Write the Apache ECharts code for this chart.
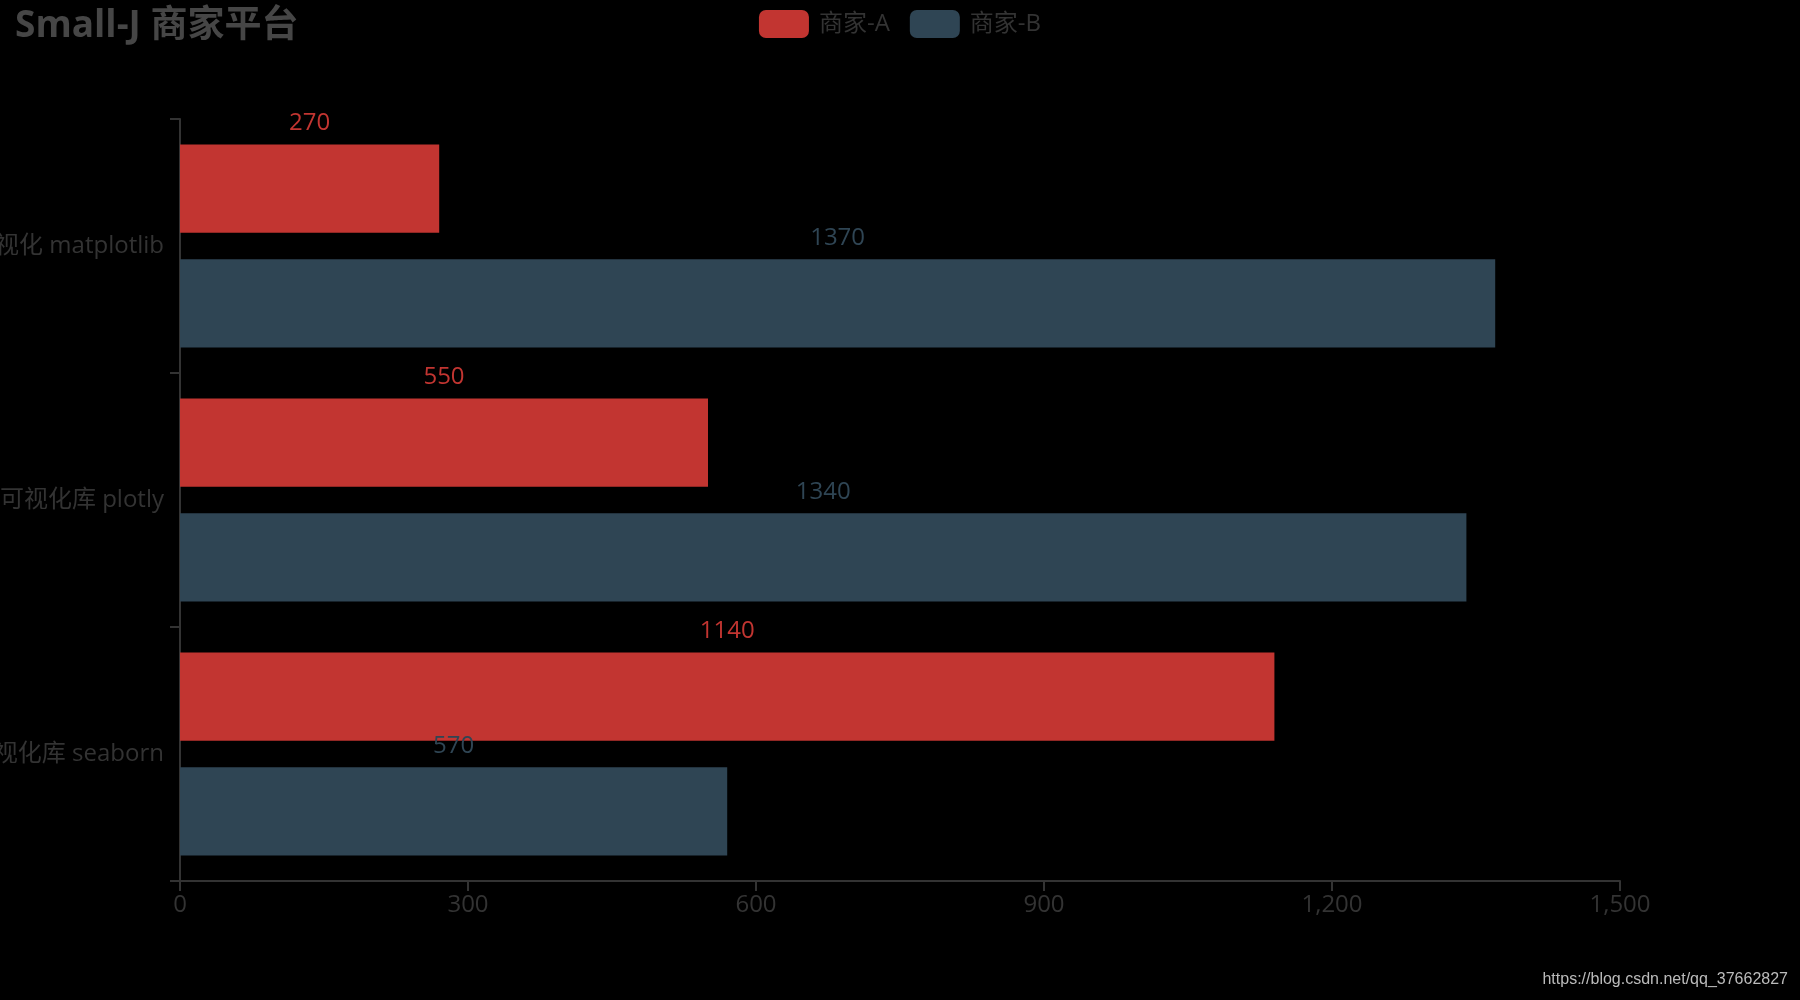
<!DOCTYPE html>
<html>
<head>
<meta charset="utf-8">
<script src="https://cdn.jsdelivr.net/npm/echarts@6/dist/echarts.min.js"></script>
<style>
html,body{margin:0;padding:0;background:#000;}
#chart{width:1800px;height:1000px;}
</style>
</head>
<body>
<div id="chart"></div>
<script>
const categories = ['可视化 matplotlib', '可视化库 plotly', '可视化库 seaborn'];
const seriesNames = ['商家-A', '商家-B'];
const valuesA = [270, 550, 1140];
const valuesB = [1370, 1340, 570];
const xTicks = { min: 0, max: 1500, interval: 300 };

const FONT = '"Open Sans", "Noto Sans CJK SC", sans-serif';
const chart = echarts.init(document.getElementById('chart'));
chart.setOption({
  backgroundColor: '#000',
  color: ['#c23531', '#2f4554'],
  textStyle: { fontFamily: FONT },
  title: {
    text: 'Small-J 商家平台',
    left: 10, top: 3,
    textStyle: { fontSize: 37, fontWeight: 'bold', color: '#464646', fontFamily: FONT }
  },
  legend: {
    data: seriesNames,
    top: 5, left: 'center',
    itemWidth: 50, itemHeight: 28, itemGap: 20,
    textStyle: { fontSize: 24, color: '#333', fontFamily: FONT, padding: [0, 0, 0, 5] }
  },
  grid: { left: 180, right: 180, top: 119, bottom: 119, containLabel: false, outerBoundsMode: 'none' },
  xAxis: {
    type: 'value',
    min: xTicks.min, max: xTicks.max, interval: xTicks.interval,
    axisLine: { show: true, lineStyle: { color: '#333', width: 2 } },
    axisTick: { show: true, length: 10, lineStyle: { color: '#333', width: 2 } },
    axisLabel: { fontSize: 24, color: '#333', margin: 12, fontFamily: FONT },
    splitLine: { show: false }
  },
  yAxis: {
    type: 'category',
    data: categories,
    inverse: true,
    axisLine: { show: true, lineStyle: { color: '#333', width: 2 } },
    axisTick: { show: true, length: 10, lineStyle: { color: '#333', width: 2 } },
    axisLabel: { fontSize: 24, color: '#333', margin: 16, fontFamily: FONT },
    splitLine: { show: false }
  },
  series: [
    {
      name: seriesNames[0], type: 'bar', data: valuesA,
      barCategoryGap: '20%', barGap: '30%',
      label: { show: true, position: 'top', distance: 9, fontSize: 24, color: '#c23531', fontFamily: FONT }
    },
    {
      name: seriesNames[1], type: 'bar', data: valuesB,
      barCategoryGap: '20%', barGap: '30%',
      label: { show: true, position: 'top', distance: 9, fontSize: 24, color: '#2f4554', fontFamily: FONT }
    }
  ],
  graphic: [{
    type: 'text', right: 12, bottom: 12,
    style: { text: 'https://blog.csdn.net/qq_37662827', fill: '#bbb', fontSize: 16, fontFamily: '"Liberation Sans", Arial, sans-serif' }
  }]
});
</script>
</body>
</html>
